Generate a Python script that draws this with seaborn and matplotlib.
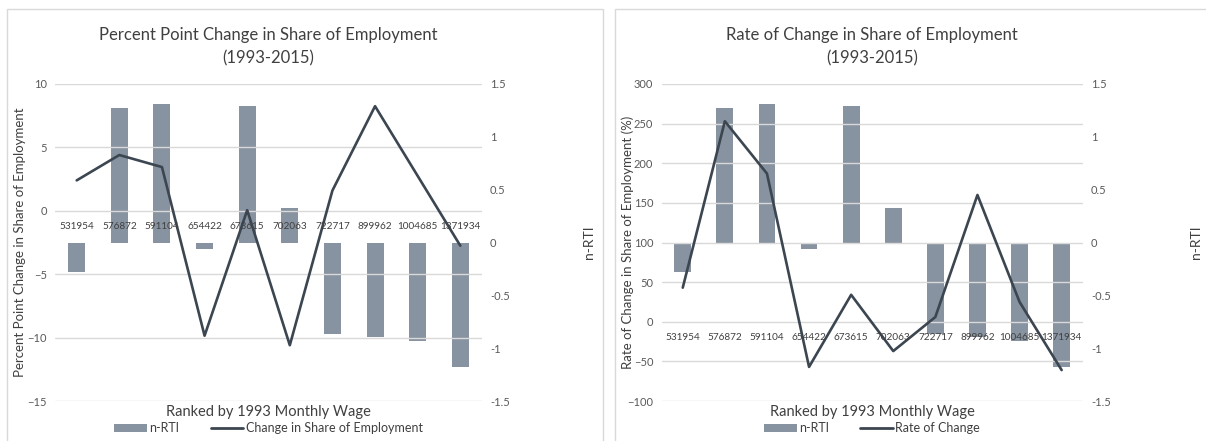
import numpy as np
import matplotlib
matplotlib.use("Agg")
import matplotlib.pyplot as plt
import seaborn as sns
from matplotlib.patches import Rectangle, Patch
from matplotlib.lines import Line2D

# === Data ===
wages = ["531954", "576872", "591104", "654422", "673615",
         "702063", "722717", "899962", "1004685", "1371934"]
n_rti = [-0.28, 1.27, 1.31, -0.06, 1.29, 0.33, -0.87, -0.89, -0.93, -1.18]
pp_change = [2.4, 4.4, 3.45, -9.85, 0.05, -10.6, 1.6, 8.25, 2.75, -2.75]
rate_change = [43, 253, 187, -57, 34, -37, 6, 160, 25, -61]

BAR = "#8793A0"
LINE = "#3C4651"
GRID = "#D9D9D9"
TXT = "#595959"

sns.set_style("white")
plt.rcParams["font.family"] = ["Lato", "DejaVu Sans"]

fig = plt.figure(figsize=(12.06, 4.41), dpi=100)

# panel frames
for x0, x1 in [(7, 602.7), (615, 1212)]:
    fig.add_artist(Rectangle((x0 / 1206, -0.05), (x1 - x0) / 1206, 1.05 - 9 / 441,
                             transform=fig.transFigure, fill=False,
                             edgecolor="#D9D9D9", linewidth=1.0))


def panel(rect, line_vals, ylim, yticks, title, ylabel, line_label, ylab_x, rlab_x):
    ax = fig.add_axes(rect)
    ax2 = ax.twinx()
    pos = np.arange(len(wages))

    sns.barplot(x=wages, y=n_rti, ax=ax2, color=BAR, width=0.4,
                saturation=1, edgecolor="none")
    sns.lineplot(x=pos, y=line_vals, ax=ax, color=LINE, linewidth=1.9)

    ax.set_zorder(ax2.get_zorder() + 1)
    ax.patch.set_visible(False)

    ax.set_xlim(-0.5, len(wages) - 0.5)
    ax.set_ylim(*ylim)
    ax.set_yticks(yticks)
    ax2.set_ylim(-1.5, 1.5)
    ax2.set_yticks([-1.5, -1, -0.5, 0, 0.5, 1, 1.5])
    ax2.set_yticklabels(["-1.5", "-1", "-0.5", "0", "0.5", "1", "1.5"])

    ax.yaxis.grid(True, color=GRID, linewidth=1.0)
    ax.set_xticks([])
    ax2.set_xticks([])
    for a in (ax, ax2):
        for s in a.spines.values():
            s.set_visible(False)
        a.tick_params(axis="y", length=0, labelsize=8, labelcolor=TXT, pad=6)

    # category labels sit under the primary zero line
    for i, w in enumerate(wages):
        ax.annotate(w, (i, 0), xytext=(0, -11), textcoords="offset points",
                    ha="center", va="center", fontsize=7.2, color="#404040")

    ax.set_title(title, fontsize=12, color="#404040", pad=15, linespacing=1.5)
    ax.set_ylabel(ylabel, fontsize=9.5, color="#404040")
    ax.yaxis.set_label_coords(ylab_x, 0.5)
    ax2.set_ylabel("n-RTI", fontsize=10, color="#404040")
    ax2.yaxis.set_label_coords(rlab_x, 0.5)
    ax.set_xlabel("Ranked by 1993 Monthly Wage", fontsize=10.5, color="#404040")
    ax.xaxis.set_label_coords(0.5, -0.012)

    handles = [Patch(facecolor=BAR, edgecolor="none"),
               Line2D([], [], color=LINE, linewidth=2)]
    ax.legend(handles, ["n-RTI", line_label], loc="center",
              bbox_to_anchor=(0.5, -0.085), ncol=2, frameon=False,
              fontsize=9, handlelength=2.6, handleheight=0.6,
              columnspacing=2.5, handletextpad=0.2, labelcolor="#404040")
    return ax


panel([55.4 / 1206, 40 / 441, 426.2 / 1206, 317 / 441], pp_change, (-15, 10),
      [-15, -10, -5, 0, 5, 10],
      "Percent Point Change in Share of Employment\n(1993-2015)",
      "Percent Point Change in Share of Employment",
      "Change in Share of Employment", -0.068, 1.238)

panel([661.7 / 1206, 40 / 441, 421 / 1206, 317 / 441], rate_change, (-100, 300),
      [-100, -50, 0, 50, 100, 150, 200, 250, 300],
      "Rate of Change in Share of Employment\n(1993-2015)",
      "Rate of Change in Share of Employment (%)",
      "Rate of Change", -0.066, 1.255)

fig.savefig("out.png", dpi=100)
